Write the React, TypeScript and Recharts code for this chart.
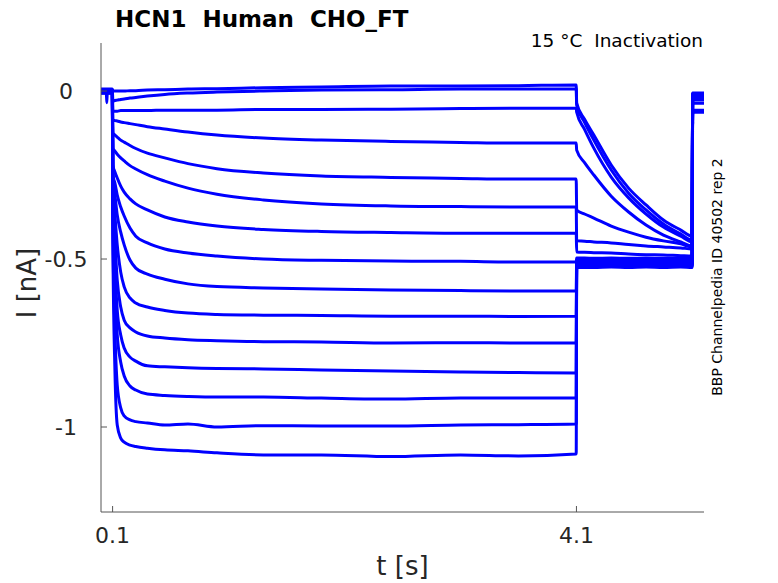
import React from 'react';
import { LineChart, Line, XAxis, YAxis } from 'recharts';

// time grids [s] for the four protocol phases
const holdTimes = [0, 0.045, 0.05, 0.055, 0.098];
const stepTimes = [0.102, 0.12, 0.14, 0.17, 0.2, 0.25, 0.3, 0.4, 0.55, 0.75, 1.0, 1.4, 1.9, 2.5, 3.1, 3.6, 4.098];
const tailTimes = [4.102, 4.17, 4.25, 4.4, 4.55, 4.7, 4.85, 5.0, 5.098];
const endTimes = [5.102, 5.2];

// currents [nA], one row per sweep
const holdI = [
  [0.003, 0.003, -0.035, 0.003, 0.003],
  [0.006, 0.006, 0.006, 0.006, 0.006],
  [-0.003, -0.003, -0.003, -0.003, -0.003],
  [0, 0, 0, 0, 0],
  [-0.006, -0.006, -0.006, -0.006, -0.006],
  [-0.003, -0.003, -0.003, -0.003, -0.003],
  [0, 0, 0, 0, 0],
  [-0.003, -0.003, -0.003, -0.003, -0.003],
  [-0.006, -0.006, -0.006, -0.006, -0.006],
  [0, 0, 0, 0, 0],
  [-0.003, -0.003, -0.003, -0.003, -0.003],
  [0.003, 0.003, 0.003, 0.003, 0.003],
  [-0.003, -0.003, -0.003, -0.003, -0.003],
  [0, 0, 0, 0, 0],
  [-0.006, -0.006, -0.006, -0.006, -0.006],
];

const stepI = [
  [0, 0, 0, 0, 0, 0.001, 0.001, 0.003, 0.004, 0.006, 0.007, 0.010, 0.012, 0.015, 0.015, 0.016, 0.018],
  [-0.030, -0.028, -0.027, -0.025, -0.024, -0.021, -0.019, -0.015, -0.010, -0.006, -0.003, 0, 0.003, 0.004, 0.006, 0.006, 0.006],
  [-0.060, -0.060, -0.060, -0.058, -0.058, -0.058, -0.058, -0.058, -0.057, -0.057, -0.057, -0.055, -0.055, -0.054, -0.052, -0.051, -0.051],
  [-0.086, -0.088, -0.089, -0.092, -0.094, -0.097, -0.100, -0.106, -0.113, -0.122, -0.131, -0.140, -0.146, -0.150, -0.153, -0.155, -0.155],
  [-0.125, -0.131, -0.137, -0.146, -0.152, -0.162, -0.171, -0.185, -0.199, -0.216, -0.231, -0.244, -0.253, -0.257, -0.260, -0.262, -0.262],
  [-0.170, -0.179, -0.188, -0.199, -0.208, -0.222, -0.232, -0.249, -0.268, -0.289, -0.307, -0.324, -0.336, -0.342, -0.344, -0.345, -0.345],
  [-0.220, -0.241, -0.259, -0.283, -0.301, -0.321, -0.336, -0.354, -0.375, -0.390, -0.402, -0.412, -0.418, -0.421, -0.423, -0.423, -0.423],
  [-0.250, -0.274, -0.310, -0.345, -0.372, -0.408, -0.432, -0.452, -0.470, -0.482, -0.491, -0.500, -0.504, -0.506, -0.507, -0.509, -0.509],
  [-0.271, -0.310, -0.369, -0.420, -0.458, -0.503, -0.527, -0.545, -0.560, -0.574, -0.582, -0.586, -0.589, -0.592, -0.594, -0.595, -0.595],
  [-0.289, -0.369, -0.458, -0.539, -0.583, -0.616, -0.631, -0.643, -0.653, -0.661, -0.665, -0.667, -0.668, -0.670, -0.670, -0.671, -0.670],
  [-0.310, -0.443, -0.563, -0.643, -0.682, -0.705, -0.717, -0.729, -0.735, -0.740, -0.743, -0.746, -0.747, -0.750, -0.749, -0.750, -0.750],
  [-0.324, -0.518, -0.652, -0.726, -0.765, -0.792, -0.804, -0.818, -0.821, -0.824, -0.826, -0.827, -0.830, -0.833, -0.836, -0.838, -0.839],
  [-0.354, -0.592, -0.726, -0.807, -0.848, -0.878, -0.890, -0.902, -0.906, -0.909, -0.911, -0.911, -0.914, -0.917, -0.914, -0.914, -0.914],
  [-0.399, -0.711, -0.875, -0.943, -0.967, -0.979, -0.984, -0.988, -0.994, -0.991, -1.000, -0.996, -0.997, -0.997, -0.994, -0.993, -0.991],
  [-0.443, -0.830, -0.994, -1.033, -1.045, -1.054, -1.058, -1.063, -1.068, -1.071, -1.077, -1.083, -1.083, -1.088, -1.083, -1.086, -1.080],
];

const tailI = [
  [-0.036, -0.084, -0.131, -0.220, -0.289, -0.339, -0.384, -0.414, -0.432],
  [-0.042, -0.093, -0.146, -0.235, -0.304, -0.354, -0.396, -0.426, -0.443],
  [-0.063, -0.114, -0.170, -0.256, -0.318, -0.366, -0.405, -0.432, -0.449],
  [-0.176, -0.213, -0.250, -0.313, -0.360, -0.399, -0.429, -0.449, -0.461],
  [-0.354, -0.366, -0.378, -0.402, -0.420, -0.435, -0.446, -0.455, -0.464],
  [-0.446, -0.447, -0.449, -0.452, -0.457, -0.461, -0.464, -0.467, -0.470],
  [-0.479, -0.480, -0.481, -0.482, -0.485, -0.487, -0.488, -0.490, -0.491],
  [-0.497, -0.497, -0.498, -0.497, -0.498, -0.497, -0.498, -0.497, -0.498],
  [-0.503, -0.503, -0.503, -0.504, -0.503, -0.504, -0.503, -0.504, -0.503],
  [-0.507, -0.507, -0.507, -0.508, -0.507, -0.508, -0.507, -0.508, -0.507],
  [-0.512, -0.512, -0.512, -0.511, -0.512, -0.511, -0.512, -0.511, -0.512],
  [-0.515, -0.515, -0.515, -0.516, -0.515, -0.516, -0.515, -0.516, -0.515],
  [-0.518, -0.518, -0.518, -0.519, -0.518, -0.519, -0.518, -0.519, -0.518],
  [-0.521, -0.521, -0.521, -0.522, -0.521, -0.522, -0.521, -0.522, -0.521],
  [-0.525, -0.525, -0.525, -0.524, -0.525, -0.524, -0.525, -0.524, -0.525],
];

const endI = [-0.060, -0.063, -0.057, -0.036, -0.027, -0.021, -0.018, -0.015, -0.015, -0.012, -0.012, -0.009, -0.009, -0.009, -0.006];

const xTicks = [0.1, 4.1];
const yTicks = [0, -0.5, -1];

const sweeps = stepI.map((_, k) => [
  ...holdTimes.map((t, j) => ({ t, i: holdI[k][j] })),
  ...stepTimes.map((t, j) => ({ t, i: stepI[k][j] })),
  ...tailTimes.map((t, j) => ({ t, i: tailI[k][j] })),
  ...endTimes.map((t) => ({ t, i: endI[k] })),
]);

const FONT = 'DejaVu Sans';
const AXIS = '#555555';
const TEXT = '#262626';

const XTick = (props: any) => {
  const { x, y, payload } = props;
  return (
    <g>
      <line x1={x} y1={y} x2={x} y2={y - 6} stroke={AXIS} />
      <text x={x} y={y + 31} textAnchor="middle" fontSize={22} fill={TEXT} fontFamily={FONT}>
        {String(payload.value)}
      </text>
    </g>
  );
};

const YTick = (props: any) => {
  const { x, y, payload } = props;
  return (
    <g>
      <line x1={x} y1={y} x2={x + 6} y2={y} stroke={AXIS} />
      <text x={x - 35} y={y} dy="0.36em" textAnchor="middle" fontSize={22} fill={TEXT} fontFamily={FONT}>
        {String(payload.value)}
      </text>
    </g>
  );
};

export default function App() {
  return (
    <div style={{ position: 'absolute', left: 0, top: 0, width: 778, height: 583, background: '#fff' }}>
      <LineChart width={778} height={583} margin={{ top: 43, right: 74, bottom: 0, left: 0 }}>
        <XAxis
          dataKey="t"
          type="number"
          domain={[0, 5.2]}
          allowDataOverflow
          ticks={xTicks}
          tick={<XTick />}
          tickLine={false}
          tickSize={0}
          tickMargin={0}
          height={71}
          stroke={AXIS}
        />
        <YAxis
          type="number"
          domain={[-1.253, 0.143]}
          allowDataOverflow
          ticks={yTicks}
          tick={<YTick />}
          tickLine={false}
          tickSize={0}
          tickMargin={0}
          width={101}
          stroke={AXIS}
        />
        {sweeps.map((d, k) => (
          <Line
            key={k}
            data={d}
            dataKey="i"
            type="monotone"
            stroke="#0000ff"
            strokeWidth={3}
            dot={false}
            activeDot={false}
            isAnimationActive={false}
          />
        ))}
      </LineChart>
      <svg width={778} height={583} style={{ position: 'absolute', left: 0, top: 0, pointerEvents: 'none' }}>
        <text x={115} y={27} fontSize={23} fontWeight="bold" fontFamily={FONT} fill="#000" style={{ whiteSpace: 'pre' }}>
          HCN1  Human  CHO_FT
        </text>
        <text x={703} y={47} fontSize={18.5} textAnchor="end" fontFamily={FONT} fill="#000" style={{ whiteSpace: 'pre' }}>
          15 °C  Inactivation
        </text>
        <text x={402.5} y={575} fontSize={26} textAnchor="middle" fontFamily={FONT} fill={TEXT}>
          t [s]
        </text>
        <text transform="translate(36,283) rotate(-90)" fontSize={26} textAnchor="middle" fontFamily={FONT} fill={TEXT}>
          I [nA]
        </text>
        <text transform="translate(722,277) rotate(-90)" fontSize={14} textAnchor="middle" fontFamily={FONT} fill="#000">
          BBP Channelpedia ID 40502 rep 2
        </text>
      </svg>
    </div>
  );
}
